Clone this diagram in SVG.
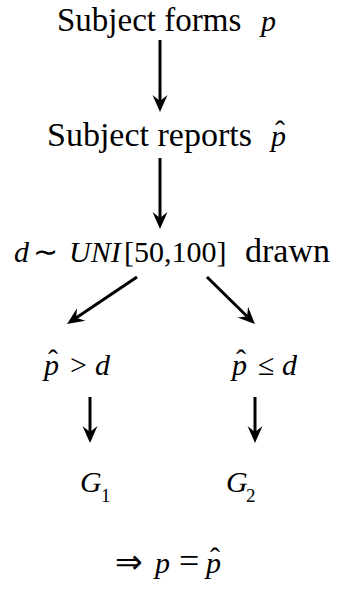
<svg xmlns="http://www.w3.org/2000/svg" width="341" height="594" viewBox="0 0 341 594" font-family="Tinos, Liberation Serif, serif">
<defs>
<marker id="ah" markerUnits="userSpaceOnUse" markerWidth="24" markerHeight="20" viewBox="-20 -10 24 20" refX="-8" refY="0" orient="auto">
<path d="M0,0 L-17,-7.5 L-11,0 L-17,7.5 Z" fill="#000"/>
</marker>
</defs>
<rect width="341" height="594" fill="#fff"/>
<g id="n1">
<text font-family="Tinos, Liberation Serif, serif" font-size="33" x="57" y="31">Subject forms</text>
<text font-family="Tinos, Liberation Serif, serif" font-size="30" font-style="italic" x="261" y="31">p</text>
</g>
<g id="n2">
<text font-family="Tinos, Liberation Serif, serif" font-size="34" x="47" y="146">Subject reports</text>
<text font-family="Tinos, Liberation Serif, serif" font-size="30" font-style="italic" x="271" y="146">p</text>
<text font-family="Tinos, Liberation Serif, serif" font-size="30" x="275" y="141">ˆ</text>
</g>
<g id="n3">
<text font-family="Tinos, Liberation Serif, serif" font-size="30" y="262"><tspan font-style="italic" x="14">d</tspan><tspan x="33">∼</tspan><tspan font-style="italic" x="69">UNI</tspan><tspan x="124">[50,100]</tspan></text>
<text font-family="Tinos, Liberation Serif, serif" font-size="34" x="245" y="262">drawn</text>
</g>
<g id="n4">
<text font-family="Tinos, Liberation Serif, serif" font-size="30" y="375"><tspan font-style="italic" x="44">p</tspan><tspan x="70">&gt;</tspan><tspan font-style="italic" x="95">d</tspan></text>
<text font-family="Tinos, Liberation Serif, serif" font-size="30" x="48" y="370">ˆ</text>
</g>
<g id="n5">
<text font-family="Tinos, Liberation Serif, serif" font-size="30" y="375"><tspan font-style="italic" x="232">p</tspan><tspan x="258">≤</tspan><tspan font-style="italic" x="282">d</tspan></text>
<text font-family="Tinos, Liberation Serif, serif" font-size="30" x="236" y="370">ˆ</text>
</g>
<g id="n6">
<text font-family="Tinos, Liberation Serif, serif" font-size="30" font-style="italic" x="80" y="492">G</text>
<text font-family="Tinos, Liberation Serif, serif" font-size="19" x="101" y="502">1</text>
</g>
<g id="n7">
<text font-family="Tinos, Liberation Serif, serif" font-size="30" font-style="italic" x="226" y="492">G</text>
<text font-family="Tinos, Liberation Serif, serif" font-size="19" x="246" y="502">2</text>
</g>
<g id="n8">
<text font-family="Tinos, Liberation Serif, serif" font-size="30" y="573"><tspan x="115" font-size="33">⇒</tspan><tspan font-style="italic" x="155">p</tspan><tspan x="179" font-size="36">=</tspan><tspan font-style="italic" x="206">p</tspan></text>
<text font-family="Tinos, Liberation Serif, serif" font-size="30" x="210" y="568">ˆ</text>
</g>
<g id="connectors" stroke="#000" stroke-width="3" fill="none">
<line x1="160" y1="40" x2="160" y2="104" marker-end="url(#ah)"/>
<line x1="160" y1="158" x2="160" y2="221" marker-end="url(#ah)"/>
<line x1="137" y1="277" x2="73.7" y2="319.5" marker-end="url(#ah)"/>
<line x1="207" y1="277" x2="249.2" y2="318.5" marker-end="url(#ah)"/>
<line x1="90" y1="397" x2="90" y2="435" marker-end="url(#ah)"/>
<line x1="255" y1="397" x2="255" y2="435" marker-end="url(#ah)"/>
</g>
</svg>
